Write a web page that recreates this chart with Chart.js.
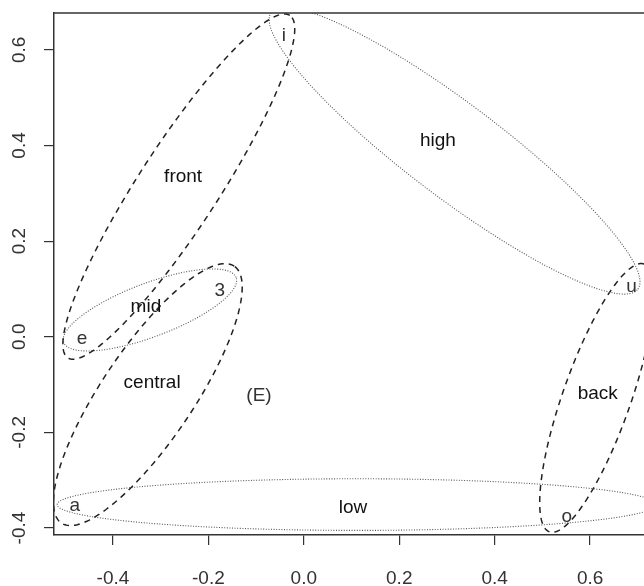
<!DOCTYPE html>
<html>
<head>
<meta charset="utf-8">
<script src="https://cdn.jsdelivr.net/npm/chart.js@4"></script>
<style>
  html, body { margin: 0; padding: 0; background: #fff; overflow: hidden; }
</style>
</head>
<body>
<canvas id="c" width="644" height="586"></canvas>
<script>
// vowel tokens
var vowels = ['i', 'e', '3', 'a', '(E)', 'o', 'u'];
var vowelX = [-0.042, -0.465, -0.176, -0.480, -0.094, 0.551, 0.687];
var vowelY = [0.630, -0.004, 0.096, -0.354, -0.123, -0.377, 0.105];

// feature groups: ellipse centre, semi axes and tilt (degrees)
var groups = ['front', 'high', 'mid', 'central', 'low', 'back'];
var groupX = [-0.262, 0.316, -0.3225, -0.327, 0.111, 0.614];
var groupY = [0.314, 0.389, 0.056, -0.121, -0.351, -0.128];
var groupA = [0.427, 0.481, 0.193, 0.324, 0.628, 0.297];
var groupB = [0.084, 0.098, 0.056, 0.096, 0.054, 0.071];
var groupTilt = [57, -37, 20.6, 56, 0, 70.5];

// where the group names are written
var groupLabelX = [-0.253, 0.281, -0.331, -0.318, 0.103, 0.616];
var groupLabelY = [0.335, 0.410, 0.063, -0.096, -0.358, -0.119];

var xTicks = [-0.4, -0.2, 0.0, 0.2, 0.4, 0.6];
var yTicks = [-0.4, -0.2, 0.0, 0.2, 0.4, 0.6];

var dashedGroups = ['front', 'central', 'back'];

function ellipsePoints(i) {
  var pts = [];
  var th = groupTilt[i] * Math.PI / 180;
  for (var k = 0; k <= 180; k++) {
    var t = k / 180 * 2 * Math.PI;
    var u = groupA[i] * Math.cos(t), v = groupB[i] * Math.sin(t);
    pts.push({
      x: groupX[i] + u * Math.cos(th) - v * Math.sin(th),
      y: groupY[i] + u * Math.sin(th) + v * Math.cos(th)
    });
  }
  return pts;
}

var datasets = groups.map(function(g, i) {
  var dashed = dashedGroups.indexOf(g) >= 0;
  return {
    label: g,
    data: ellipsePoints(i),
    showLine: true,
    fill: false,
    pointRadius: 0,
    tension: 0,
    borderColor: dashed ? '#222' : '#555',
    borderWidth: dashed ? 1.5 : 1.1,
    borderDash: dashed ? [6, 5] : [1, 1.6]
  };
});

var FONT = '"Liberation Sans", Arial, sans-serif';

var textPlugin = {
  id: 'texts',
  afterDatasetsDraw: function(chart) {
    var ctx = chart.ctx, xs = chart.scales.x, ys = chart.scales.y;
    ctx.save();
    ctx.font = '19px ' + FONT;
    ctx.textAlign = 'center';
    ctx.textBaseline = 'middle';
    ctx.fillStyle = '#333';
    vowels.forEach(function(v, i) {
      ctx.fillText(v, xs.getPixelForValue(vowelX[i]), ys.getPixelForValue(vowelY[i]));
    });
    ctx.fillStyle = '#111';
    groups.forEach(function(g, i) {
      ctx.fillText(g, xs.getPixelForValue(groupLabelX[i]), ys.getPixelForValue(groupLabelY[i]));
    });
    // plot box top edge
    var a = chart.chartArea;
    ctx.strokeStyle = '#333';
    ctx.lineWidth = 1.5;
    ctx.beginPath();
    ctx.moveTo(a.left, a.top);
    ctx.lineTo(a.right, a.top);
    ctx.stroke();
    ctx.restore();
  }
};

new Chart(document.getElementById('c'), {
  type: 'scatter',
  data: { datasets: datasets },
  options: {
    responsive: false,
    animation: false,
    devicePixelRatio: 1,
    layout: { padding: { top: 13, right: 0, left: 0, bottom: 0 } },
    plugins: { legend: { display: false }, tooltip: { enabled: false } },
    scales: {
      x: {
        type: 'linear',
        min: -0.5236,
        max: 0.713,
        afterBuildTicks: function(s) { s.ticks = xTicks.map(function(v) { return { value: v }; }); },
        afterFit: function(s) { s.height = 51; s.paddingLeft = 0; s.paddingRight = 0; },
        grid: { drawOnChartArea: false, tickLength: 10, color: '#333', lineWidth: 1.2 },
        border: { display: true, color: '#333', width: 1.5 },
        ticks: {
          autoSkip: false, maxRotation: 0, padding: 22, color: '#333',
          font: { family: FONT, size: 19 },
          callback: function(v) { return v.toFixed(1); }
        }
      },
      y: {
        type: 'linear',
        min: -0.4146,
        max: 0.677,
        afterBuildTicks: function(s) { s.ticks = yTicks.map(function(v) { return { value: v }; }); },
        afterFit: function(s) { s.width = 54; s.paddingTop = 0; s.paddingBottom = 0; },
        grid: { drawOnChartArea: false, tickLength: 10, color: '#333', lineWidth: 1.2 },
        border: { display: true, color: '#333', width: 1.5 },
        ticks: {
          autoSkip: false, minRotation: 90, maxRotation: 90, crossAlign: 'center',
          padding: 8, color: '#333',
          font: { family: FONT, size: 19 },
          callback: function(v) { return v.toFixed(1); }
        }
      }
    }
  },
  plugins: [textPlugin]
});
</script>
</body>
</html>
